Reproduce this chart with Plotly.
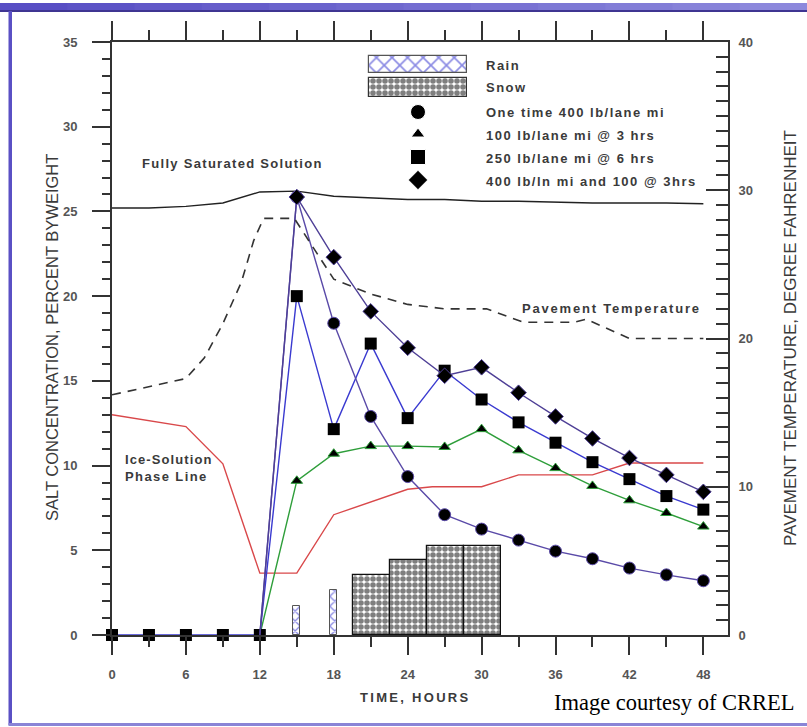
import plotly.graph_objects as go

# ---------------- data ----------------
sat_hours = [0, 3, 6, 9, 12, 15, 18, 21, 24, 27, 30, 33, 36, 39, 42, 45, 48]
sat_vals = [25.2, 25.2, 25.3, 25.5, 26.15, 26.2, 25.9, 25.8, 25.7, 25.7, 25.6, 25.6, 25.55, 25.5, 25.5, 25.5, 25.45]

pav_hours = [0, 6, 7.5, 9, 10.5, 11.5, 12.3, 14.8, 18, 21, 24, 27, 30.4, 33.4, 37.5, 38.5, 42, 48]
pav_temp = [16.2, 17.3, 18.7, 21.0, 23.8, 26.6, 28.1, 28.1, 24.0, 23.0, 22.3, 22.0, 22.0, 21.1, 21.1, 21.3, 20.0, 20.0]

ice_hours = [0, 6, 9, 12, 15, 18, 24, 26, 30, 33, 39, 42, 48]
ice_vals = [13.0, 12.3, 10.1, 3.65, 3.65, 7.1, 8.6, 8.75, 8.75, 9.45, 9.45, 10.15, 10.15]

sq_hours = [0, 3, 6, 9, 12, 15, 18, 21, 24, 27, 30, 33, 36, 39, 42, 45, 48]
sq_vals = [0, 0, 0, 0, 0, 20.0, 12.15, 17.2, 12.8, 15.6, 13.9, 12.55, 11.35, 10.2, 9.2, 8.2, 7.4]

app_hours = [12, 15, 18, 21, 24, 27, 30, 33, 36, 39, 42, 45, 48]
circle_vals = [0, 25.85, 18.4, 12.9, 9.35, 7.1, 6.25, 5.6, 4.95, 4.5, 3.95, 3.55, 3.2]
triangle_vals = [0, 9.1, 10.7, 11.15, 11.15, 11.1, 12.15, 10.9, 9.85, 8.8, 7.95, 7.2, 6.4]
diamond_vals = [0, 25.85, 22.3, 19.1, 16.95, 15.3, 15.8, 14.3, 12.9, 11.6, 10.45, 9.45, 8.45]

rain_hours = [15, 18]
rain_vals = [1.7, 2.65]
snow_hours = [21.1, 24.1, 27.05, 30.05]
snow_vals = [3.55, 4.45, 5.25, 5.25]

legend_labels = ["Rain", "Snow", "One time 400 lb/lane mi", "100 lb/lane mi @ 3 hrs",
                 "250 lb/lane mi @ 6 hrs", "400 lb/ln mi and 100 @ 3hrs"]

# ---------------- geometry ----------------
W, H = 807, 727
ML, MR, MT, MB = 112, 79, 42, 92
PW, PH = W - ML - MR, H - MT - MB


def px(x):
    return (x - ML) / PW


def py(y):
    return (H - MB - y) / PH


FONT = "Liberation Sans, Arial, sans-serif"
TXT = "#3a3a3a"
C_PURPLE = "#5a4aa8"
C_BLUE = "#3a3ad0"
C_GREEN = "#2e9e3a"
C_RED = "#d9484a"

SNOW_PATTERN = dict(shape=".", fgcolor="#000", bgcolor="white", size=6, solidity=0.68)


def sp(t, ls):
    return f'<b><span style="letter-spacing:{ls}px">{t}</span></b>'


fig = go.Figure()

# precipitation bars
fig.add_trace(go.Bar(x=rain_hours, y=rain_vals, width=0.55, showlegend=False,
                     marker=dict(color="white", line=dict(color="#555", width=1),
                                 pattern=dict(shape="x", fgcolor="#1414c8", bgcolor="white",
                                              size=7, solidity=0.35))))
fig.add_trace(go.Bar(x=snow_hours, y=snow_vals, width=3.0, showlegend=False,
                     marker=dict(color="white", line=dict(color="#111", width=1.2),
                                 pattern=SNOW_PATTERN)))

# reference lines
fig.add_trace(go.Scatter(x=sat_hours, y=sat_vals, mode="lines", showlegend=False,
                         line=dict(color="#222", width=1.4)))
fig.add_trace(go.Scatter(x=ice_hours, y=ice_vals, mode="lines", showlegend=False,
                         line=dict(color=C_RED, width=1.4)))
fig.add_trace(go.Scatter(x=pav_hours, y=pav_temp, mode="lines", yaxis="y2", showlegend=False,
                         line=dict(color="#333", width=1.6, dash="9px,7px")))

first_hidden = [0] + [1] * (len(app_hours) - 1)

fig.add_trace(go.Scatter(x=app_hours, y=triangle_vals, mode="lines+markers", showlegend=False,
                         cliponaxis=False, line=dict(color=C_GREEN, width=1.4),
                         marker=dict(symbol="triangle-up", color="black", opacity=1,
                                     size=[s * 10 for s in first_hidden])))
fig.add_trace(go.Scatter(x=sq_hours, y=sq_vals, mode="lines+markers", showlegend=False,
                         cliponaxis=False, line=dict(color=C_BLUE, width=1.4),
                         marker=dict(symbol="square", color="black", size=12, opacity=1)))
fig.add_trace(go.Scatter(x=app_hours, y=circle_vals, mode="lines+markers", showlegend=False,
                         cliponaxis=False, line=dict(color=C_PURPLE, width=1.4),
                         marker=dict(symbol="circle", color="black", opacity=1,
                                     size=[s * 12 for s in first_hidden])))
fig.add_trace(go.Scatter(x=app_hours, y=diamond_vals, mode="lines+markers", showlegend=False,
                         cliponaxis=False, line=dict(color="#4e3f96", width=1.4),
                         marker=dict(symbol="diamond", color="black", opacity=1,
                                     size=[s * 12 for s in first_hidden])))

# invisible trace to anchor the top axis
fig.add_trace(go.Scatter(x=[0], y=[0], xaxis="x2", mode="markers", showlegend=False,
                         marker=dict(opacity=0), hoverinfo="skip"))

# ---------------- custom legend (pixel-coordinate overlay axes) ----------------
fig.add_trace(go.Bar(x=[417.5], y=[17], base=[55.5], width=[98], xaxis="x3", yaxis="y3",
                     showlegend=False,
                     marker=dict(color="white", line=dict(color="#555", width=1.2),
                                 pattern=dict(shape="x", fgcolor="#1414c8", bgcolor="white",
                                              size=11, solidity=0.28))))
fig.add_trace(go.Bar(x=[417.5], y=[19], base=[78], width=[98], xaxis="x3", yaxis="y3",
                     showlegend=False,
                     marker=dict(color="white", line=dict(color="#333", width=1.2),
                                 pattern=SNOW_PATTERN)))
fig.add_trace(go.Scatter(x=[418, 418, 418, 418], y=[112, 134, 157, 180], xaxis="x3", yaxis="y3",
                         mode="markers", showlegend=False, cliponaxis=False,
                         marker=dict(symbol=["circle", "triangle-up", "square", "diamond"],
                                     size=[15, 12, 15, 15], color="black", opacity=1)))

legend_y = [65, 88, 112, 135, 158, 182]
annotations = []
for lab, yy in zip(legend_labels, legend_y):
    annotations.append(dict(x=px(484), y=py(yy), xref="paper", yref="paper", text=sp(lab, 1.5),
                            showarrow=False, xanchor="left", yanchor="middle",
                            font=dict(family=FONT, size=13, color=TXT)))

annotations += [
    dict(x=px(232), y=py(163), text=sp("Fully Saturated Solution", 1.3), font=dict(family=FONT, size=13, color=TXT)),
    dict(x=px(611), y=py(308), text=sp("Pavement Temperature", 1.8), font=dict(family=FONT, size=13, color=TXT)),
    dict(x=px(123), y=py(468), text=sp("Ice-Solution", 1.1) + "<br>" + sp("Phase Line", 1.4),
         xanchor="left", align="left", font=dict(family=FONT, size=13, color=TXT)),
    dict(x=px(415), y=py(697), text=sp("TIME, HOURS", 2.3), font=dict(family=FONT, size=13, color=TXT)),
    dict(x=px(52), y=py(338), text="SALT CONCENTRATION, PERCENT BYWEIGHT", textangle=-90,
         font=dict(family=FONT, size=16.5, color=TXT)),
    dict(x=px(790), y=py(338), text="PAVEMENT TEMPERATURE, DEGREE FAHRENHEIT", textangle=-90,
         font=dict(family=FONT, size=17, color=TXT)),
    dict(x=px(797), y=py(702), text="Image courtesy of CRREL", xanchor="right",
         font=dict(family="Liberation Serif, Times New Roman, serif", size=22.5, color="black")),
]
for a in annotations:
    a.setdefault("xref", "paper")
    a.setdefault("yref", "paper")
    a.setdefault("showarrow", False)
    a.setdefault("xanchor", "center")
    a.setdefault("yanchor", "middle")

# ---------------- frame decoration ----------------
shapes = []
n = 12
c0, c1 = (88, 78, 196), (140, 136, 220)
for i in range(n):
    t = i / (n - 1)
    col = "rgb(%d,%d,%d)" % tuple(int(a + (b_ - a) * t) for a, b_ in zip(c0, c1))
    shapes.append(dict(type="rect", xref="paper", yref="paper", layer="below",
                       x0=px(W * i / n), x1=px(W * (i + 1) / n + 1), y0=py(10), y1=py(3),
                       fillcolor=col, line=dict(width=0)))
shapes += [
    dict(type="rect", xref="paper", yref="paper", x0=px(0), x1=px(W), y0=py(12), y1=py(10),
         fillcolor="#3f3592", line=dict(width=0), layer="below"),
    dict(type="rect", xref="paper", yref="paper", x0=px(8.5), x1=px(12), y0=py(725), y1=py(11),
         fillcolor="#5a50c4", line=dict(width=0), layer="below"),
    dict(type="rect", xref="paper", yref="paper", x0=px(8.5), x1=px(W), y0=py(726), y1=py(723),
         fillcolor="#8a84d6", line=dict(width=0), layer="below"),
]

AX = "#333"
tickfont = dict(family=FONT, size=13, color="#555", weight="bold")

fig.update_layout(
    width=W, height=H,
    margin=dict(l=ML, r=MR, t=MT, b=MB, pad=0),
    paper_bgcolor="white", plot_bgcolor="white",
    barmode="overlay", bargap=0,
    showlegend=False,
    annotations=annotations,
    shapes=shapes,
    xaxis=dict(range=[0, 50], tickmode="linear", tick0=0, dtick=6,
               ticks="outside", ticklen=18, tickwidth=2, tickcolor=AX,
               minor=dict(tickmode="linear", tick0=3, dtick=6, ticks="outside", ticklen=10,
                          tickwidth=1.6, tickcolor=AX),
               showline=True, linecolor=AX, linewidth=2, showgrid=False, zeroline=False,
               tickfont=tickfont, ticklabelstandoff=8, fixedrange=True, automargin=False),
    xaxis2=dict(overlaying="x", side="top", anchor="y", range=[0, 50], tickmode="linear", tick0=0, dtick=6,
                ticks="outside", ticklen=19, tickwidth=2, tickcolor=AX,
                minor=dict(tickmode="linear", tick0=3, dtick=6, ticks="outside", ticklen=10,
                           tickwidth=1.6, tickcolor=AX),
                showticklabels=False, showline=True, linecolor=AX, linewidth=2,
                showgrid=False, zeroline=False, automargin=False),
    yaxis=dict(range=[0, 35], tickmode="linear", tick0=0, dtick=5,
               ticks="outside", ticklen=18, tickwidth=2, tickcolor=AX,
               minor=dict(tickmode="linear", tick0=0, dtick=1, ticks="outside", ticklen=8,
                          tickwidth=1.6, tickcolor=AX),
               showline=True, linecolor=AX, linewidth=2, showgrid=False, zeroline=False,
               tickfont=tickfont, ticklabelstandoff=12, automargin=False),
    yaxis2=dict(overlaying="y", side="right", anchor="x", range=[0, 40], tickmode="linear", tick0=0, dtick=10,
                ticks="inside", ticklen=22, tickwidth=2, tickcolor=AX,
                minor=dict(tickmode="linear", tick0=0, dtick=1, ticks="inside", ticklen=12,
                           tickwidth=1.6, tickcolor=AX),
                showline=True, linecolor=AX, linewidth=2, showgrid=False, zeroline=False,
                tickfont=tickfont, ticklabelstandoff=6, automargin=False),
    xaxis3=dict(overlaying="x", range=[ML, W - MR], visible=False, anchor="y3"),
    yaxis3=dict(overlaying="y", range=[H - MB, MT], visible=False, anchor="x3"),
)

fig.write_html("out.html", config={"displayModeBar": False},
               post_script="document.body.style.margin='0';document.body.style.overflow='hidden';")
